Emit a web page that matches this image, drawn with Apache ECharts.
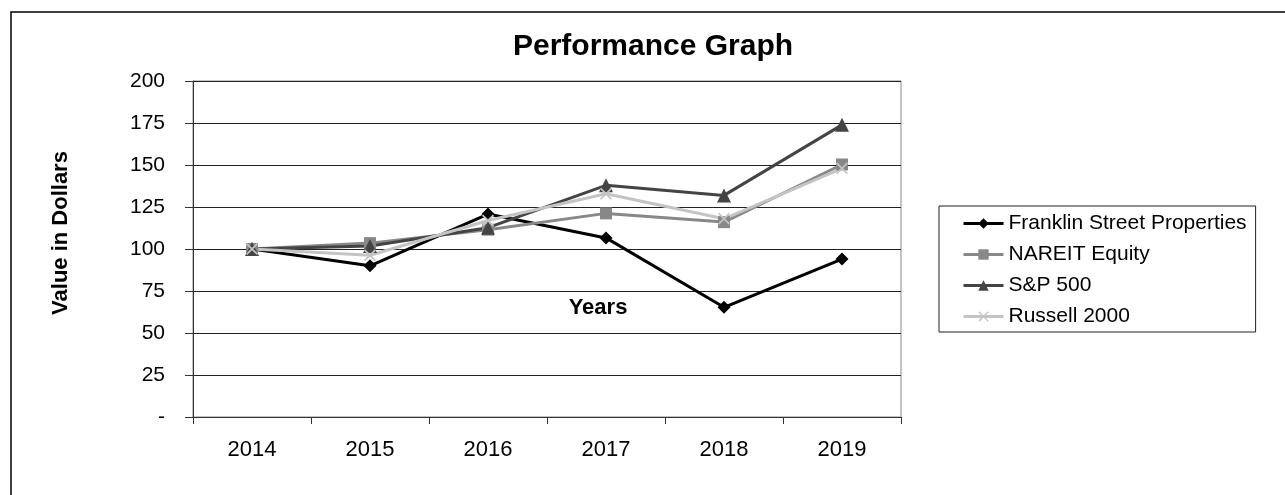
<!DOCTYPE html>
<html><head><meta charset="utf-8">
<script src="https://cdn.jsdelivr.net/npm/echarts@6/dist/echarts.min.js"></script>
<style>html,body{margin:0;padding:0;background:#fff}#c{width:1285px;height:495px}</style>
</head><body><div id="c"></div>
<script>
var years = ['2014','2015','2016','2017','2018','2019'];
var franklin = [100, 90, 120.8, 106.6, 65.3, 94];
var nareit = [100, 103.5, 111.5, 121.2, 116, 150.3];
var sp500 = [100, 101.8, 112.7, 137.9, 131.9, 173.9];
var russell = [100, 96.3, 117, 132.9, 118, 148];
var yTicks = {min: 0, max: 200, step: 25};

var FONT = 'Liberation Sans, Arial, sans-serif';
var xShape = 'path://M0,1L1,0L5,4L9,0L10,1L6,5L10,9L9,10L5,6L1,10L0,9L4,5Z';
var chart = echarts.init(document.getElementById('c'));
function s(name, data, color, symbol, size, width) {
  return {name: name, type: 'line', data: data, symbol: symbol, symbolSize: size,
    lineStyle: {color: color, width: width}, itemStyle: {color: color},
    emphasis: {disabled: true}, animation: false};
}
chart.setOption({
  animation: false,
  textStyle: {fontFamily: FONT},
  graphic: [
    {type: 'rect', shape: {x: 11, y: 12, width: 1300, height: 520}, style: {fill: 'none', stroke: '#000', lineWidth: 1.5}, silent: true},
    {type: 'text', x: 653, y: 47, style: {text: 'Performance Graph', font: 'bold 30px ' + FONT, fill: '#000', textAlign: 'center', textVerticalAlign: 'middle'}},
    {type: 'text', x: 598, y: 308, style: {text: 'Years', font: 'bold 22px ' + FONT, fill: '#000', textAlign: 'center', textVerticalAlign: 'middle'}},
    {type: 'text', x: 61, y: 233, rotation: Math.PI / 2, style: {text: 'Value in Dollars', font: 'bold 22px ' + FONT, fill: '#000', textAlign: 'center', textVerticalAlign: 'middle'}}
  ],
  legend: {orient: 'vertical', left: 939, top: 206, itemGap: 10, itemWidth: 40, itemHeight: 13,
    padding: [7, 9, 5, 23], borderColor: '#222', borderWidth: 1,
    lineStyle: {width: 3},
    textStyle: {fontSize: 21, color: '#000', fontFamily: FONT},
    data: ['Franklin Street Properties', 'NAREIT Equity', 'S&P 500', 'Russell 2000']},
  grid: {left: 193, right: 384, top: 81, bottom: 78, show: true, borderColor: '#888', borderWidth: 1},
  xAxis: {type: 'category', data: years, boundaryGap: true,
    axisLine: {lineStyle: {color: '#333', width: 1}},
    axisTick: {show: true, alignWithLabel: false, length: 7, lineStyle: {color: '#333'}},
    axisLabel: {fontSize: 22, color: '#000', margin: 22, fontFamily: FONT},
    splitLine: {show: false}},
  yAxis: {type: 'value', min: yTicks.min, max: yTicks.max, interval: yTicks.step,
    axisLine: {show: true, lineStyle: {color: '#333', width: 1}},
    axisTick: {show: true, length: 8, lineStyle: {color: '#333'}},
    axisLabel: {fontSize: 21, color: '#000', margin: 28, fontFamily: FONT,
      formatter: function (v) { return v === 0 ? '-' : String(v); }},
    splitLine: {show: true, lineStyle: {color: '#222', width: 1}}},
  series: [
    s('Franklin Street Properties', franklin, '#000000', 'diamond', 13, 3),
    s('NAREIT Equity', nareit, '#888888', 'rect', 12, 3),
    s('S&P 500', sp500, '#444444', 'triangle', 14, 3),
    s('Russell 2000', russell, '#c4c4c4', xShape, 12, 3)
  ]
});
</script></body></html>
